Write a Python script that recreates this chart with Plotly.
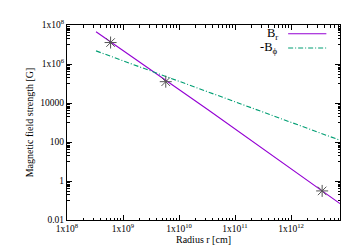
import plotly.graph_objects as go
import math

# --- data ---
r_Br = [3.3e8, 3.3e10, 7.5e12]
B_r = [4.5e7, 4500, 0.069]

r_Bphi = [3.3e8, 3.3e10, 7.5e12]
B_phi = [4.7e6, 3.7e4, 123]

r_obs = [6.0e8, 5.8e9, 3.6e12]
B_obs = [1.26e7, 1.24e5, 0.31]

x_tickvals = [1e8, 1e9, 1e10, 1e11, 1e12]
x_ticktext = ["1x10<sup>8</sup>", "1x10<sup>9</sup>", "1x10<sup>10</sup>",
              "1x10<sup>11</sup>", "1x10<sup>12</sup>"]
y_tickvals = [1e8, 1e6, 1e4, 100, 1, 0.01]
y_ticktext = ["1x10<sup>8</sup>", "1x10<sup>6</sup>", "10000", "100", "1", "0.01"]

legend_labels = ["B<sub>r</sub>", "-B<sub>\u03d5</sub>"]

x_range = [1e8, 7.5e12]
y_range = [0.01, 1e8]

# minor ticks
x_minor = []
for e in range(8, 13):
    for k in range(2, 10):
        v = k * 10 ** e
        if v <= x_range[1]:
            x_minor.append(v)
y_minor = []
for m in [8, 6, 4, 2, 0]:
    for k in range(1, 10):
        y_minor.append(k * 10.0 ** (m - 1))

FONT = "Liberation Serif"
purple = "#9400D3"
green = "#009E73"
grey = "#555555"
dashdot = "5px,2px,1px,2px"

fig = go.Figure()
fig.add_trace(go.Scatter(x=r_Br, y=B_r, mode="lines",
                         line=dict(color=purple, width=1.1), showlegend=False))
fig.add_trace(go.Scatter(x=r_Bphi, y=B_phi, mode="lines",
                         line=dict(color=green, width=1.1, dash=dashdot), showlegend=False))
fig.add_trace(go.Scatter(x=r_obs, y=B_obs, mode="markers",
                         marker=dict(symbol="asterisk-open", size=10, color=grey,
                                     line=dict(color=grey, width=1)),
                         showlegend=False))

axis_common = dict(
    showline=True, linecolor="black", linewidth=1, mirror="allticks",
    ticks="inside", ticklen=5, tickcolor="black", tickwidth=1,
    showgrid=False, zeroline=False,
    tickfont=dict(family=FONT, size=9.5, color="black"),
)

fig.update_xaxes(type="log", range=[math.log10(x_range[0]), math.log10(x_range[1])],
                 tickmode="array", tickvals=x_tickvals, ticktext=x_ticktext,
                 minor=dict(tickmode="array", tickvals=x_minor, ticks="inside",
                            ticklen=2.5, tickcolor="black", tickwidth=1),
                 title=dict(text="Radius r [cm]", font=dict(family=FONT, size=10, color="black"),
                            standoff=2),
                 **axis_common)
fig.update_yaxes(type="log", range=[math.log10(y_range[0]), math.log10(y_range[1])],
                 tickmode="array", tickvals=y_tickvals, ticktext=y_ticktext,
                 minor=dict(tickmode="array", tickvals=y_minor, ticks="inside",
                            ticklen=2.5, tickcolor="black", tickwidth=1),
                 title=dict(text="Magnetic field strength [G]",
                            font=dict(family=FONT, size=10, color="black"), standoff=4),
                 **axis_common)

# gnuplot-style key (text then sample line) in the top right
legend_y = [0.955, 0.882]
legend_styles = [dict(color=purple, width=1.1), dict(color=green, width=1.1, dash=dashdot)]
for lbl, yy, st in zip(legend_labels, legend_y, legend_styles):
    fig.add_annotation(xref="paper", yref="paper", x=0.78, y=yy, text=lbl,
                       showarrow=False, xanchor="right", yanchor="middle",
                       font=dict(family=FONT, size=12.5, color="black"))
    fig.add_shape(type="line", xref="paper", yref="paper",
                  x0=0.81, x1=0.95, y0=yy, y1=yy, line=st)

fig.update_layout(width=350, height=245,
                  margin=dict(l=59, r=18, t=10, b=32),
                  paper_bgcolor="white", plot_bgcolor="white",
                  font=dict(family=FONT, color="black"))

fig.write_html("out.html")
